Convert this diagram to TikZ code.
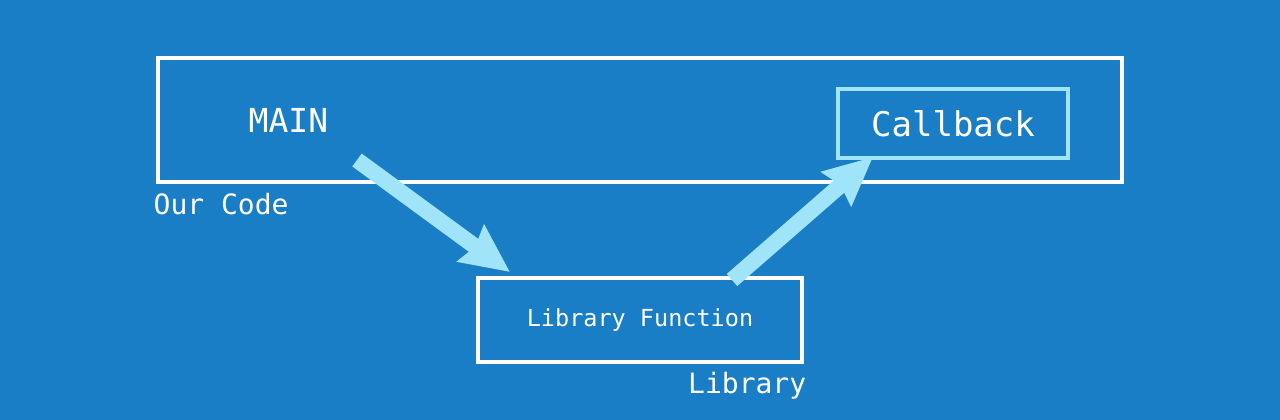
\documentclass[tikz,border=0pt]{standalone}
\usepackage{fontspec}
\setmonofont{DejaVu Sans Mono}
\usetikzlibrary{arrows.meta}
\definecolor{bgblue}{RGB}{26,126,198}
\definecolor{lightcyan}{RGB}{160,228,250}
\tikzset{
  whitebox/.style={draw=white, line width=4pt, inner sep=0pt, font=\ttfamily, text=white},
  cyanbox/.style={draw=lightcyan, line width=4pt, inner sep=0pt, font=\ttfamily, text=white},
  lbl/.style={text=white, font=\ttfamily, inner sep=0pt},
  bigarrow/.style={draw=lightcyan, line width=16pt, line cap=butt,
    -{Stealth[length=48pt, width=44pt, inset=5pt, fill=lightcyan]}},
}
\begin{document}
\begin{tikzpicture}[x=1pt, y=-1pt]
  \fill[bgblue] (0,0) rectangle (1280,420);
  \useasboundingbox (0,0) rectangle (1280,420);
  % outer box "Our Code"
  \node[whitebox, minimum width=964pt, minimum height=124pt] (code) at (640,120) {};
  \node[lbl, anchor=base west, font=\ttfamily\fontsize{28}{33}\selectfont] (ourcode) at (153.5,214) {Our Code};
  \node[lbl, anchor=base west, font=\ttfamily\fontsize{33}{39}\selectfont] (main) at (248.5,132) {MAIN};
  % callback box
  \node[cyanbox, minimum width=230pt, minimum height=69pt, font=\ttfamily\fontsize{34}{40}\selectfont] (callback) at (953,123.5) {Callback};
  % library function box
  \node[whitebox, minimum width=324pt, minimum height=84pt, font=\ttfamily\fontsize{23.5}{28}\selectfont] (libfn) at (640,320) {Library Function};
  \node[lbl, anchor=base west, font=\ttfamily\fontsize{28}{33}\selectfont] (library) at (688,393) {Library};
  % arrow end points
  \coordinate (s1) at (357,160);
  \coordinate (t1) at (510,272);
  \coordinate (s2) at (732,280);
  \coordinate (t2) at (873,157);
  \draw[bigarrow] (s1) -- (t1);
  \draw[bigarrow] (s2) -- (t2);
\end{tikzpicture}
\end{document}
